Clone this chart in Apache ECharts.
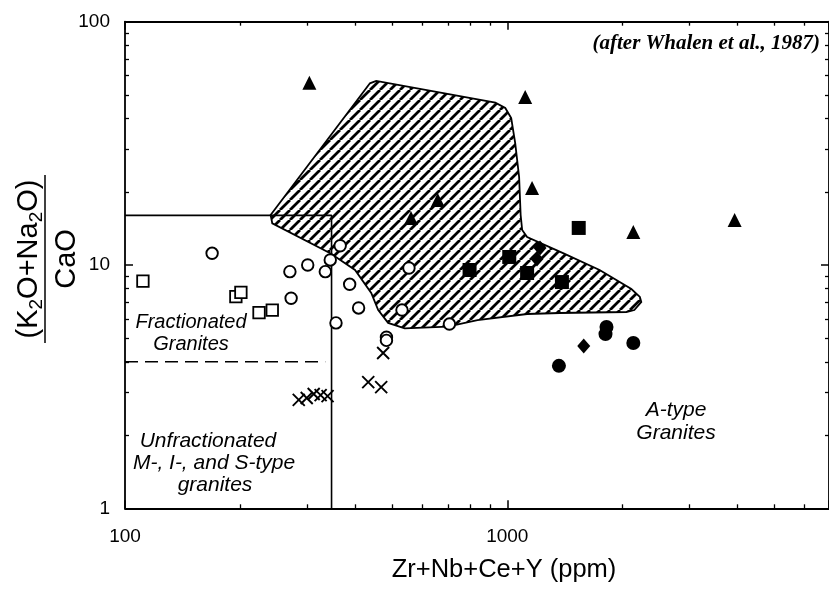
<!DOCTYPE html>
<html>
<head>
<meta charset="utf-8">
<script src="https://cdn.jsdelivr.net/npm/echarts@6/dist/echarts.min.js"></script>
<style>
html,body{margin:0;padding:0;background:#fff;}
#chart{width:829px;height:593px;}
</style>
</head>
<body>
<div id="chart"></div>
<script>
// ---- axis ranges ----
const xMin = 100, xMax = 6945;
const yMin = 1, yMax = 100;

// ---- field boundaries ----
const boxX = [100, 347, 347];
const boxY = [16, 16, 1];
const dashX = [100, 334];
const dashY = [4, 4];

// ---- A-type (hatched) field outline ----
const hatchX = [240.4, 437.3, 454.1, 930.7, 988.1, 1024, 1049, 1074, 1084, 1094, 1127, 1404, 1744, 2112, 2223, 2242, 2150, 2049, 1373, 1127, 835.9, 698.7, 539.1, 487.9, 459.6, 440.7, 399.7, 344.3, 242.8];
const hatchY = [16.05, 55.83, 57.06, 46.47, 44.19, 40.20, 31.72, 23.00, 16.05, 13.93, 13.04, 11.17, 9.54, 7.97, 7.39, 7.05, 6.53, 6.41, 6.35, 6.29, 5.94, 5.58, 5.49, 5.78, 6.53, 7.67, 9.54, 11.17, 14.84];

// ---- samples ----
const openSquareX = [111.4, 195.0, 201.0, 224.2, 242.8];
const openSquareY = [8.59, 7.41, 7.72, 6.37, 6.53];

const openCircleX = [169.0, 270.0, 300.6, 334.2, 344.3, 365.5, 272.0, 387.0, 408.4, 356.4, 530.4, 553.1, 705.8, 483.0, 483.0];
const openCircleY = [11.17, 9.39, 10.0, 9.39, 10.49, 12.0, 7.30, 8.33, 6.66, 5.78, 6.53, 9.72, 5.72, 5.05, 4.90];

const triangleX = [303.6, 1114, 657.8, 559.9, 1161, 2137, 3934];
const triangleY = [56.15, 49.04, 18.50, 15.6, 20.73, 13.67, 15.31];

const filledSquareX = [1538, 796.9, 1012, 1127, 1390];
const filledSquareY = [14.20, 9.54, 10.79, 9.27, 8.51];

const diamondX = [1218, 1196, 1585];
const diamondY = [11.75, 10.58, 4.65];

const filledCircleX = [1818, 1807, 2137, 1365];
const filledCircleY = [5.56, 5.20, 4.78, 3.85];

const crossX = [284.8, 298.8, 311.6, 324.9, 338.8, 473.5, 432.8, 467.9];
const crossY = [2.79, 2.84, 2.95, 2.92, 2.89, 4.35, 3.30, 3.15];

// ---- tick labels ----
const xTickLabels = [100, 1000];
const yTickLabels = [1, 10, 100];

function pairs(xs, ys) { return xs.map((x, i) => [x, ys[i]]); }

function makeHatch() {
  const s = 10;
  const c = document.createElement('canvas');
  c.width = s; c.height = s;
  const g = c.getContext('2d');
  g.fillStyle = '#fff';
  g.fillRect(0, 0, s, s);
  g.strokeStyle = '#000';
  g.lineWidth = 2.8;
  g.beginPath();
  [-1, 0, 1].forEach(k => { g.moveTo(k * s, s); g.lineTo(k * s + s, 0); });
  g.stroke();
  return c;
}
const hatchPattern = { image: makeHatch(), repeat: 'repeat' };

const FONT = '"Liberation Sans", Arial, Helvetica, sans-serif';

function axisCommon(extra) {
  return Object.assign({
    type: 'log', logBase: 10,
    axisLine: { show: true, onZero: false, lineStyle: { color: '#000', width: 1.8 } },
    axisTick: { show: true, inside: true, length: 8, lineStyle: { color: '#000', width: 1.5 } },
    minorTick: { show: true, splitNumber: 9, length: 4, lineStyle: { color: '#000', width: 1.3 } },
    splitLine: { show: false },
    minorSplitLine: { show: false },
    axisLabel: { show: false }
  }, extra);
}

const chart = echarts.init(document.getElementById('chart'), null, { renderer: 'canvas' });

const scatterBase = { type: 'scatter', xAxisIndex: 0, yAxisIndex: 0, silent: true, z: 5 };

chart.setOption({
  animation: false,
  backgroundColor: '#fff',
  grid: { left: 125, right: -5, top: 21.7, bottom: 84.7, containLabel: false },
  xAxis: [
    axisCommon({
      position: 'bottom', min: xMin, max: xMax,
      axisLabel: {
        show: true, color: '#000', fontSize: 19, fontFamily: FONT, margin: 19,
        showMaxLabel: false,
        formatter: v => (xTickLabels.indexOf(Math.round(v)) >= 0 ? String(Math.round(v)) : '')
      }
    }),
    axisCommon({ position: 'top', min: xMin, max: xMax })
  ],
  yAxis: [
    axisCommon({
      position: 'left', min: yMin, max: yMax,
      axisLabel: {
        show: true, color: '#000', fontSize: 19, fontFamily: FONT, margin: 15,
        formatter: v => (yTickLabels.indexOf(Math.round(v)) >= 0 ? String(Math.round(v)) : '')
      }
    }),
    axisCommon({ position: 'right', min: yMin, max: yMax })
  ],
  series: [
    {
      type: 'custom', coordinateSystem: 'cartesian2d', xAxisIndex: 0, yAxisIndex: 0,
      silent: true, z: 1,
      data: pairs(hatchX, hatchY),
      renderItem: function (params, api) {
        if (params.dataIndex !== 0) return null;
        const pts = hatchX.map((x, i) => api.coord([x, hatchY[i]]));
        return {
          type: 'polygon',
          shape: { points: pts },
          style: { fill: hatchPattern, stroke: '#000', lineWidth: 1.8 }
        };
      }
    },
    {
      type: 'line', xAxisIndex: 0, yAxisIndex: 0, silent: true, z: 2,
      data: pairs(boxX, boxY), symbol: 'none',
      lineStyle: { color: '#000', width: 1.6, opacity: 1 }
    },
    {
      type: 'line', xAxisIndex: 0, yAxisIndex: 0, silent: true, z: 2,
      data: pairs(dashX, dashY), symbol: 'none',
      lineStyle: { color: '#000', width: 1.6, type: [13, 7], opacity: 1 }
    },
    Object.assign({}, scatterBase, {
      data: pairs(openSquareX, openSquareY), symbol: 'rect', symbolSize: 11.5,
      itemStyle: { color: '#fff', borderColor: '#000', borderWidth: 1.8, opacity: 1 }
    }),
    Object.assign({}, scatterBase, {
      data: pairs(openCircleX, openCircleY), symbol: 'circle', symbolSize: 11.5,
      itemStyle: { color: '#fff', borderColor: '#000', borderWidth: 1.9, opacity: 1 }
    }),
    Object.assign({}, scatterBase, {
      data: pairs(triangleX, triangleY), symbol: 'triangle', symbolSize: 14,
      itemStyle: { color: '#000', opacity: 1 }
    }),
    Object.assign({}, scatterBase, {
      data: pairs(filledSquareX, filledSquareY), symbol: 'rect', symbolSize: 14,
      itemStyle: { color: '#000', opacity: 1 }
    }),
    Object.assign({}, scatterBase, {
      data: pairs(diamondX, diamondY), symbol: 'diamond', symbolSize: [13, 15],
      itemStyle: { color: '#000', opacity: 1 }
    }),
    Object.assign({}, scatterBase, {
      data: pairs(filledCircleX, filledCircleY), symbol: 'circle', symbolSize: 14,
      itemStyle: { color: '#000', opacity: 1 }
    }),
    Object.assign({}, scatterBase, {
      data: pairs(crossX, crossY), symbol: 'path://M0,0L10,10M10,0L0,10', symbolSize: 12,
      itemStyle: { color: 'none', borderColor: '#000', borderWidth: 1.9, opacity: 1 }
    })
  ],
  graphic: [
    { type: 'text', x: 820, y: 44, silent: true,
      style: { text: '(after Whalen et al., 1987)', fill: '#000', font: 'italic bold 21px "Liberation Serif", "Times New Roman", serif', align: 'right', verticalAlign: 'middle' } },
    { type: 'text', x: 191, y: 322, silent: true,
      style: { text: 'Fractionated', fill: '#000', font: 'italic 20px ' + FONT, align: 'center', verticalAlign: 'middle' } },
    { type: 'text', x: 191, y: 344, silent: true,
      style: { text: 'Granites', fill: '#000', font: 'italic 20px ' + FONT, align: 'center', verticalAlign: 'middle' } },
    { type: 'text', x: 208, y: 441, silent: true,
      style: { text: 'Unfractionated', fill: '#000', font: 'italic 21px ' + FONT, align: 'center', verticalAlign: 'middle' } },
    { type: 'text', x: 214, y: 463, silent: true,
      style: { text: 'M-, I-, and S-type', fill: '#000', font: 'italic 21px ' + FONT, align: 'center', verticalAlign: 'middle' } },
    { type: 'text', x: 215, y: 485, silent: true,
      style: { text: 'granites', fill: '#000', font: 'italic 21px ' + FONT, align: 'center', verticalAlign: 'middle' } },
    { type: 'text', x: 676, y: 410, silent: true,
      style: { text: 'A-type', fill: '#000', font: 'italic 21px ' + FONT, align: 'center', verticalAlign: 'middle' } },
    { type: 'text', x: 676, y: 433, silent: true,
      style: { text: 'Granites', fill: '#000', font: 'italic 21px ' + FONT, align: 'center', verticalAlign: 'middle' } },
    { type: 'text', x: 504, y: 570, silent: true,
      style: { text: 'Zr+Nb+Ce+Y (ppm)', fill: '#000', font: '25.5px ' + FONT, align: 'center', verticalAlign: 'middle' } },
    { type: 'text', x: 29, y: 259, rotation: Math.PI / 2, silent: true,
      style: {
        text: '{a|(K}{s|2}{a|O+Na}{s|2}{a|O)}', fill: '#000', align: 'center', verticalAlign: 'middle',
        rich: {
          a: { fontSize: 29, fontFamily: FONT, lineHeight: 34, fill: '#000' },
          s: { fontSize: 19, fontFamily: FONT, lineHeight: 16, verticalAlign: 'bottom', fill: '#000' }
        }
      } },
    { type: 'line', silent: true, shape: { x1: 45, y1: 175, x2: 45, y2: 343 }, style: { stroke: '#000', lineWidth: 1.5 } },
    { type: 'text', x: 67, y: 259, rotation: Math.PI / 2, silent: true,
      style: { text: 'CaO', fill: '#000', font: '29px ' + FONT, align: 'center', verticalAlign: 'middle' } }
  ]
});
</script>
</body>
</html>
